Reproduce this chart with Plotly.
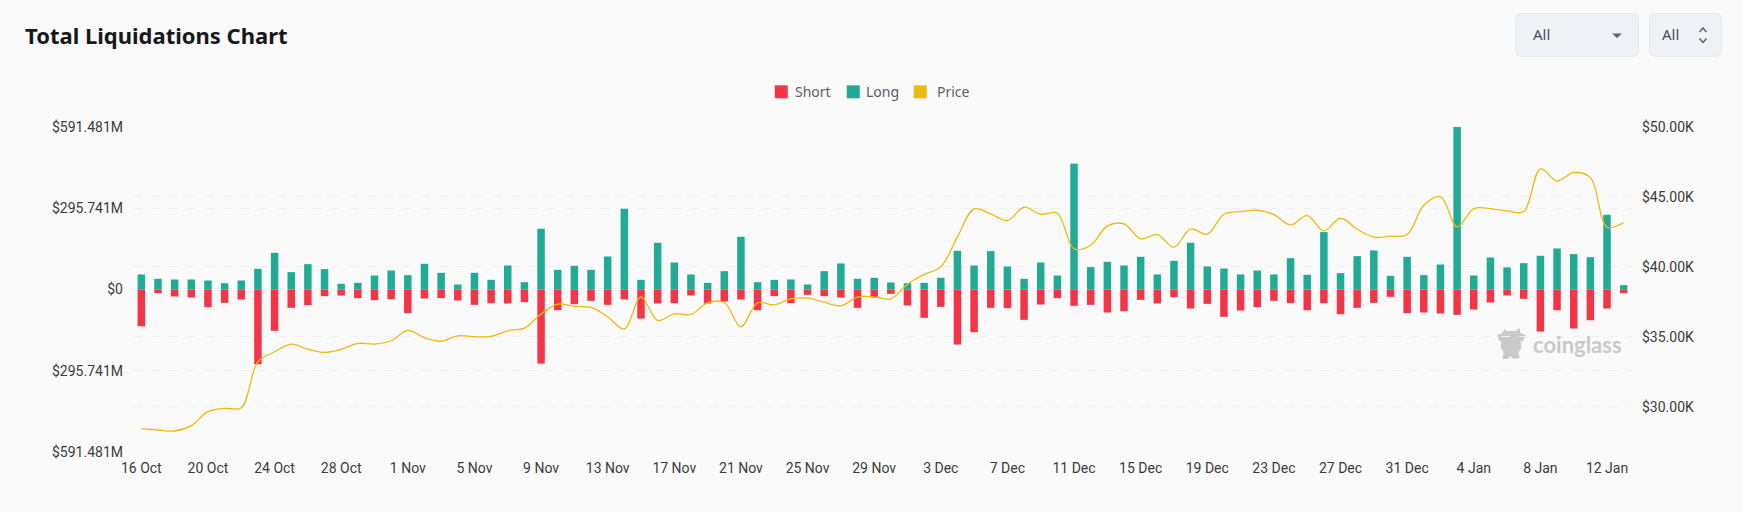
import pandas as pd
import plotly.graph_objects as go

W, H = 1743, 512
# plot area in pixels
LEFT, RIGHT, TOP, BOTTOM = 133, 1632.5, 126.7, 452

days = [d.strftime("%-d %b") for d in pd.date_range("2023-10-16", "2024-01-13")]
tick_labels = days[::4]

# liquidations in $M
long_liq = [
    54.7, 38.9, 36.4, 36.4, 32.8, 23.1, 32.8, 75.3, 133.6, 63.2,
    92.3, 74.1, 20.7, 24.3, 51.0, 69.2, 52.2, 93.5, 60.7, 18.2,
    60.7, 35.2, 87.5, 26.7, 221.1, 71.7, 86.3, 71.7, 120.3, 294.0,
    35.2, 170.1, 98.4, 54.7, 24.3, 66.8, 191.9, 26.7, 35.2, 36.4,
    18.2, 66.8, 94.8, 38.9, 42.5, 25.5, 23.1, 24.3, 42.5, 140.9,
    87.5, 139.7, 83.8, 38.9, 98.4, 51.0, 458.0, 81.4, 100.8, 87.5,
    119.1, 54.7, 104.5, 170.1, 83.8, 76.5, 54.7, 69.2, 54.7, 114.2,
    53.5, 209.0, 59.5, 121.5, 142.1, 49.8, 119.1, 52.2, 91.1, 591.5,
    51.0, 116.6, 80.2, 96.0, 122.7, 149.4, 128.8, 117.8, 272.1, 15.8,
]
short_liq = [
    -133.6, -13.4, -25.5, -29.2, -64.4, -48.6, -36.4, -272.1, -150.6, -66.8,
    -57.1, -24.3, -21.9, -31.6, -38.9, -35.2, -86.3, -32.8, -31.6, -40.1,
    -55.9, -49.8, -51.0, -46.2, -269.7, -75.3, -53.5, -41.3, -55.9, -36.4,
    -105.7, -51.0, -49.8, -21.9, -51.0, -43.7, -36.4, -75.3, -24.3, -49.8,
    -19.4, -24.3, -29.2, -66.8, -29.2, -15.8, -58.3, -103.3, -63.2, -200.4,
    -155.5, -66.8, -68.0, -110.5, -54.7, -31.6, -59.5, -55.9, -83.8, -79.0,
    -37.7, -51.0, -27.9, -69.2, -52.2, -99.6, -76.5, -64.4, -41.3, -49.8,
    -75.3, -49.8, -89.9, -66.8, -48.6, -26.7, -86.3, -83.8, -87.5, -92.3,
    -72.9, -47.4, -21.9, -34.0, -153.1, -75.3, -142.1, -111.8, -69.2, -13.4,
]
price = [
    28428, 28333, 28262, 28642, 29642, 29881, 29928, 33214, 33928, 34476,
    34119, 33881, 34095, 34524, 34476, 34714, 35452, 34928, 34690, 35071,
    35000, 35024, 35428, 35619, 36619, 37333, 37166, 37095, 36428, 35547,
    37857, 36166, 36643, 36595, 37428, 37452, 35714, 37428, 37285, 37714,
    37762, 37476, 37214, 37833, 37857, 37714, 38762, 39452, 40000, 42143,
    44143, 43786, 43309, 44262, 43762, 43833, 41286, 41547, 42928, 43071,
    42000, 42309, 41405, 42714, 42333, 43762, 43952, 44047, 43738, 43000,
    43667, 42571, 43476, 42690, 42119, 42190, 42309, 44405, 45024, 42857,
    44167, 44167, 44000, 43952, 47000, 46143, 46738, 46381, 42833, 43167,
]

left_ticks = [-591.481, -295.741, 0, 295.741, 591.481]
left_labels = ["$591.481M", "$295.741M", "$0", "$295.741M", "$591.481M"]
right_ticks = [30000, 35000, 40000, 45000, 50000]
right_labels = ["$30.00K", "$35.00K", "$40.00K", "$45.00K", "$50.00K"]

RED = "#F43548"
GREEN = "#22AB94"
YELLOW = "#EFB90F"
BG = "#FAFAFA"
GRID = "#EFEFEF"
TICK = "#3A3A3A"
LEG = "#5B5F66"


# paper coords are relative to the plot area, not the page
def px(x):
    return (x - LEFT) / (RIGHT - LEFT)


def py(y):
    return 1 - (y - TOP) / (BOTTOM - TOP)


def path_px(pts):
    # pixel polyline -> svg path in paper coords
    return "M" + " L".join(f"{px(x):.5f},{py(y):.5f}" for x, y in pts)


def rounded(x0, y0, x1, y1, r=5):
    c = [
        (x0 + r, y0), (x1 - r, y0), (x1 - r * 0.3, y0 + r * 0.3), (x1, y0 + r),
        (x1, y1 - r), (x1 - r * 0.3, y1 - r * 0.3), (x1 - r, y1),
        (x0 + r, y1), (x0 + r * 0.3, y1 - r * 0.3), (x0, y1 - r),
        (x0, y0 + r), (x0 + r * 0.3, y0 + r * 0.3),
    ]
    return path_px(c) + " Z"


fig = go.Figure()
fig.add_trace(go.Bar(x=days, y=long_liq, name="Long", marker=dict(color=GREEN, line=dict(width=0))))
fig.add_trace(go.Bar(x=days, y=short_liq, name="Short", marker=dict(color=RED, line=dict(width=0))))
fig.add_trace(
    go.Scatter(
        x=days,
        y=price,
        name="Price",
        yaxis="y2",
        mode="lines",
        line=dict(color=YELLOW, width=1.3, shape="spline", smoothing=1.0),
    )
)

shapes = []
annotations = []

# the two dropdowns at the top right
for box in [(1516, 13, 1639, 56), (1650, 13, 1722, 56)]:
    shapes.append(
        dict(type="path", xref="paper", yref="paper", path=rounded(*box),
             fillcolor="#EEF2F6", line=dict(color="#E6E9ED", width=1))
    )
for x in [1531, 1661]:
    annotations.append(
        dict(text="All", x=px(x), y=py(34), xref="paper", yref="paper", xanchor="left",
             yanchor="middle", showarrow=False, font=dict(family="Noto Sans", size=15, color="#4A4F57"))
    )
shapes.append(
    dict(type="path", xref="paper", yref="paper", fillcolor="#5F646B", line=dict(width=0),
         path=path_px([(1612.5, 33), (1622.5, 33), (1617.5, 37.5)]) + " Z")
)
for pts in [[(1700, 31.5), (1703.5, 27.5), (1707, 31.5)], [(1700, 38), (1703.5, 42), (1707, 38)]]:
    shapes.append(
        dict(type="path", xref="paper", yref="paper", path=path_px(pts),
             line=dict(color="#5F646B", width=1.5))
    )

# legend, drawn by hand so Price gets a square too
for x, color, label, tx in [(775, RED, "Short", 793), (847, GREEN, "Long", 864), (914, YELLOW, "Price", 935)]:
    shapes.append(
        dict(type="rect", xref="paper", yref="paper", x0=px(x), x1=px(x + 13), y0=py(85), y1=py(98),
             fillcolor=color, line=dict(width=0))
    )
    annotations.append(
        dict(text=label, x=px(tx), y=py(91), xref="paper", yref="paper", xanchor="left",
             yanchor="middle", showarrow=False, font=dict(family="Noto Sans", size=14, color=LEG))
    )

# coinglass watermark
bull = [
    (1498, 335), (1503, 333), (1505, 329), (1507, 331), (1516, 331), (1520, 328), (1521, 333),
    (1526, 335), (1524, 340), (1521, 342), (1522, 348), (1519, 352), (1520, 358), (1514, 359),
    (1511, 356), (1508, 359), (1503, 359), (1504, 352), (1501, 347), (1502, 342), (1499, 340),
]
shapes.append(
    dict(type="path", xref="paper", yref="paper", path=path_px(bull) + " Z",
         fillcolor="#C9C9C9", line=dict(width=0), layer="below")
)
annotations.append(
    dict(text="<b>coinglass</b>", x=px(1578), y=py(344), xref="paper", yref="paper",
         xanchor="center", yanchor="middle", showarrow=False,
         font=dict(family="Lato", size=22, color="#C9C9C9"))
)

annotations.append(
    dict(text="<b>Total Liquidations Chart</b>", x=px(23), y=py(35), xref="paper", yref="paper",
         xanchor="left", yanchor="middle", showarrow=False,
         font=dict(family="Noto Sans", size=22, color="#16181C"))
)

fig.update_layout(
    width=W,
    height=H,
    margin=dict(l=LEFT, r=W - RIGHT, t=TOP, b=H - BOTTOM),
    paper_bgcolor=BG,
    plot_bgcolor=BG,
    barmode="relative",
    bargap=0.55,
    showlegend=False,
    shapes=shapes,
    annotations=annotations,
    xaxis=dict(
        type="category",
        categoryorder="array",
        categoryarray=days,
        range=[-0.5, 89.5],
        tickmode="array",
        tickvals=tick_labels,
        ticktext=tick_labels,
        tickangle=0,
        showgrid=False,
        showline=False,
        zeroline=False,
        ticks="",
        ticklabelstandoff=6,
        tickfont=dict(family="Roboto", size=14, color=TICK),
    ),
    yaxis=dict(
        range=[-591.481, 591.481],
        tickmode="array",
        tickvals=left_ticks,
        ticktext=left_labels,
        showgrid=True,
        gridcolor=GRID,
        griddash="dash",
        gridwidth=1,
        zeroline=False,
        ticklabelstandoff=9,
        tickfont=dict(family="Roboto", size=14, color=TICK),
    ),
    yaxis2=dict(
        overlaying="y",
        side="right",
        range=[26760, 50000],
        tickmode="array",
        tickvals=right_ticks,
        ticktext=right_labels,
        showgrid=True,
        gridcolor=GRID,
        griddash="dash",
        gridwidth=1,
        zeroline=False,
        ticklabelstandoff=9,
        tickfont=dict(family="Roboto", size=14, color=TICK),
    ),
)

# the page margin would push the chart 8px off and leave a white frame
fig.write_html(
    "out.html",
    config=dict(displayModeBar=False),
    post_script="document.body.style.margin='0';document.body.style.background='#FAFAFA';",
)
